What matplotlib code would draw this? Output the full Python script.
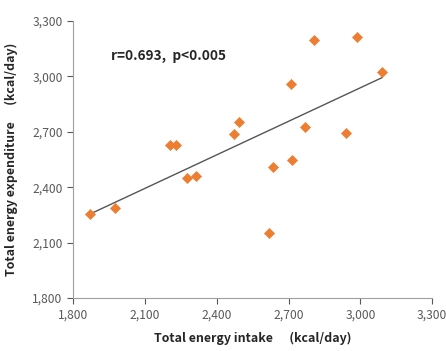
import matplotlib
matplotlib.use("Agg")
import matplotlib.pyplot as plt
import numpy as np

intake = [1871, 1974, 2203, 2228, 2274, 2312, 2472, 2494, 2617, 2635, 2709, 2716, 2769, 2805, 2940, 2986, 3091]
expend = [2256, 2287, 2631, 2626, 2451, 2462, 2689, 2752, 2151, 2508, 2957, 2546, 2728, 3195, 2696, 3215, 3022]
xticks = [1800, 2100, 2400, 2700, 3000, 3300]
yticks = [1800, 2100, 2400, 2700, 3000, 3300]
annotation = "r=0.693,  p<0.005"

plt.rcParams['font.family'] = ['Noto Sans CJK KR', 'DejaVu Sans']

fig = plt.figure(figsize=(4.46, 3.51), dpi=100)
ax = fig.add_axes([0.164, 0.151, 0.805, 0.789])

ax.scatter(intake, expend, marker='D', s=26, color='#ED7D31', edgecolors='#ED7D31', linewidths=0.5, zorder=3)

x = np.array(intake, dtype=float)
y = np.array(expend, dtype=float)
m, b = np.polyfit(x, y, 1)
xs = np.array([x.min(), x.max()])
ax.plot(xs, m * xs + b, color='#555555', lw=1.0, zorder=2)

ax.set_xlim(1800, 3300)
ax.set_ylim(1800, 3300)
ax.set_xticks(xticks)
ax.set_yticks(yticks)
ax.set_xticklabels([f"{v:,}" for v in xticks])
ax.set_yticklabels([f"{v:,}" for v in yticks])
ax.tick_params(colors='#595959', labelsize=8.7, length=4, width=0.8, direction='out')
ax.tick_params(axis='x', pad=4)
for s in ['top', 'right']:
    ax.spines[s].set_visible(False)
for s in ['left', 'bottom']:
    ax.spines[s].set_color('#A0A0A0')
    ax.spines[s].set_linewidth(0.8)

ax.set_xlabel("Total energy intake      (kcal/day)", fontsize=8.9, fontweight='bold', color='#262626', labelpad=7)
ax.set_ylabel("Total energy expenditure      (kcal/day)", fontsize=8.9, fontweight='bold', color='#262626', labelpad=10)

ax.text(1960, 3110, annotation, fontsize=9.8, fontweight='bold', color='#262626', va='center', ha='left')

fig.savefig("out.png", dpi=100)
